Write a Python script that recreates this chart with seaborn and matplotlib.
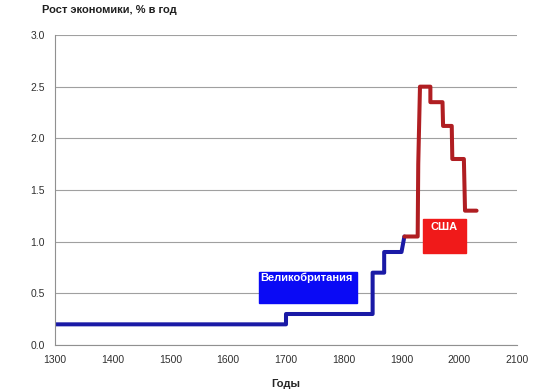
import pandas as pd
import matplotlib.pyplot as plt
import seaborn as sns
from matplotlib.patches import Rectangle

# step curves
uk_years = [1300, 1700, 1700, 1850, 1850, 1870, 1870, 1900, 1905]
uk_growth = [0.2, 0.2, 0.3, 0.3, 0.7, 0.7, 0.9, 0.9, 1.05]
us_years = [1905, 1928, 1929, 1932, 1950, 1950, 1971, 1972, 1987, 1988, 2008, 2010, 2030]
us_growth = [1.05, 1.05, 1.75, 2.5, 2.5, 2.35, 2.35, 2.12, 2.12, 1.8, 1.8, 1.3, 1.3]

uk_label = 'Великобритания'
us_label = 'США'
title = 'Рост экономики, % в год'
xlabel = 'Годы'

sns.set_style('white')
plt.rcParams['font.family'] = ['Liberation Sans', 'DejaVu Sans']

df_uk = pd.DataFrame({'year': uk_years, 'growth': uk_growth})
df_us = pd.DataFrame({'year': us_years, 'growth': us_growth})

fig = plt.figure(figsize=(5.4, 3.92), dpi=100)
ax = fig.add_axes([55 / 540, 1 - 345 / 392, 462 / 540, 310 / 392])

sns.lineplot(data=df_uk, x='year', y='growth', ax=ax, sort=False, estimator=None,
             color='#1a1aa6', linewidth=2.9)
sns.lineplot(data=df_us, x='year', y='growth', ax=ax, sort=False, estimator=None,
             color='#b01e22', linewidth=2.9)

ax.set_xlim(1300, 2100)
ax.set_ylim(0, 3.0)
ax.set_xticks(range(1300, 2101, 100))
ax.set_yticks([0, 0.5, 1.0, 1.5, 2.0, 2.5, 3.0])
ax.set_yticklabels([f'{v:.1f}' for v in [0, 0.5, 1.0, 1.5, 2.0, 2.5, 3.0]])
ax.grid(axis='y', color='#a0a0a0', linewidth=0.8)
ax.set_axisbelow(True)
for side in ['top', 'right']:
    ax.spines[side].set_visible(False)
for side in ['left', 'bottom']:
    ax.spines[side].set_color('#909090')
    ax.spines[side].set_linewidth(0.8)
ax.tick_params(axis='both', direction='out', length=4, width=0.8, color='#909090',
               labelsize=7.5, labelcolor='#303030')
ax.set_xlabel(xlabel, fontsize=8, fontweight='bold', labelpad=10)
ax.set_ylabel('')

# label boxes
ax.add_patch(Rectangle((1653, 0.41), 170, 0.30, color='#0a0af5', zorder=3))
ax.text(1736, 0.65, uk_label, color='white', fontsize=8, fontweight='bold',
        ha='center', va='center', zorder=4)
ax.add_patch(Rectangle((1937, 0.89), 74, 0.33, color='#f01a1a', zorder=3))
ax.text(1974, 1.14, us_label, color='white', fontsize=8, fontweight='bold',
        ha='center', va='center', zorder=4)

fig.text(42 / 540, 1 - 10 / 392, title, fontsize=8, fontweight='bold',
         ha='left', va='center', color='#202020')

fig.savefig('out.png', dpi=100)
